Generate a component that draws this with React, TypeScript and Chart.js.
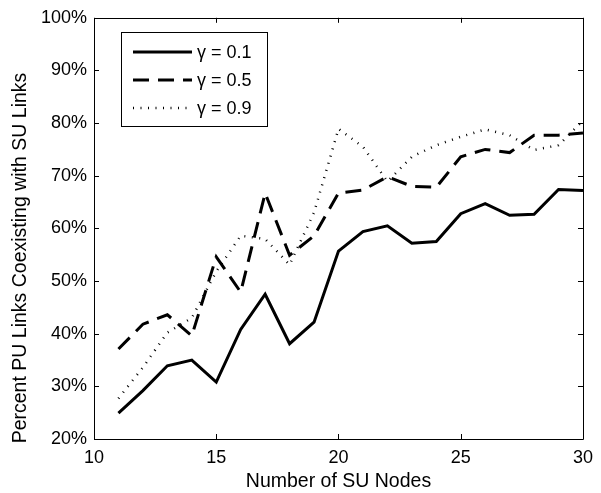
import React, { useEffect, useRef } from "react";
import { Chart, registerables } from "chart.js";

Chart.register(...registerables);

// Number of SU nodes on the horizontal axis
const suNodes = [11, 12, 13, 14, 15, 16, 17, 18, 19, 20, 21, 22, 23, 24, 25, 26, 27, 28, 29, 30];

// Percent of PU links coexisting with SU links, one series per gamma
const gamma01 = [24.9, 29.2, 33.9, 35.0, 30.8, 40.8, 47.5, 38.1, 42.2, 55.7, 59.4, 60.5, 57.2, 57.5, 62.8, 64.7, 62.5, 62.7, 67.4, 67.2];
const gamma05 = [37.1, 41.8, 43.6, 39.6, 54.6, 47.9, 66.7, 54.9, 58.6, 66.7, 67.3, 69.8, 68.0, 67.8, 73.6, 75.0, 74.4, 77.7, 77.7, 78.1];
const gamma09 = [27.7, 33.6, 40.2, 43.0, 51.8, 58.6, 58.0, 53.1, 63.0, 78.9, 75.5, 68.9, 73.6, 75.8, 77.4, 78.8, 77.7, 74.9, 75.8, 80.5];

const seriesLabels = ["γ = 0.1", "γ = 0.5", "γ = 0.9"];
const xTicks = [10, 15, 20, 25, 30];
const yTicks = [20, 30, 40, 50, 60, 70, 80, 90, 100];

const xTitle = "Number of SU Nodes";
const yTitle = "Percent PU Links Coexisting with SU Links";

const FONT = "'Liberation Sans', Arial, Helvetica, sans-serif";

// Boxed axes with inward tick marks, inset legend and rotated y title
const framePlugin = {
  id: "frame",
  afterDraw(chart: any) {
    const ctx = chart.ctx as CanvasRenderingContext2D;
    const { left, right, top, bottom } = chart.chartArea;
    const xs = chart.scales.x;
    const ys = chart.scales.y;
    const tickLen = 5;
    ctx.save();
    ctx.strokeStyle = "#000";
    ctx.lineWidth = 1;
    ctx.setLineDash([]);
    ctx.beginPath();
    ctx.rect(Math.round(left) + 0.5, Math.round(top) + 0.5, Math.round(right - left), Math.round(bottom - top));
    ctx.stroke();

    ctx.beginPath();
    xTicks.forEach((v) => {
      const px = Math.round(xs.getPixelForValue(v)) + 0.5;
      ctx.moveTo(px, bottom);
      ctx.lineTo(px, bottom - tickLen);
      ctx.moveTo(px, top);
      ctx.lineTo(px, top + tickLen);
    });
    yTicks.forEach((v) => {
      const py = Math.round(ys.getPixelForValue(v)) + 0.5;
      ctx.moveTo(left, py);
      ctx.lineTo(left + tickLen, py);
      ctx.moveTo(right, py);
      ctx.lineTo(right - tickLen, py);
    });
    ctx.stroke();

    // legend
    const bx = 121.5, by = 32.5, bw = 146, bh = 94;
    ctx.fillStyle = "#fff";
    ctx.fillRect(bx, by, bw, bh);
    ctx.strokeRect(bx, by, bw, bh);
    const rows = [52, 80, 108];
    chart.data.datasets.forEach((ds: any, i: number) => {
      ctx.save();
      ctx.strokeStyle = ds.borderColor;
      ctx.lineWidth = ds.borderWidth;
      ctx.setLineDash(ds.borderDash || []);
      ctx.lineCap = "butt";
      ctx.beginPath();
      ctx.moveTo(133, rows[i]);
      ctx.lineTo(192, rows[i]);
      ctx.stroke();
      ctx.restore();
      ctx.fillStyle = "#000";
      ctx.font = `18px ${FONT}`;
      ctx.textAlign = "left";
      ctx.textBaseline = "middle";
      ctx.fillText(ds.label, 197, rows[i] + 1);
    });

    // y axis title
    ctx.translate(21, 258);
    ctx.rotate(-Math.PI / 2);
    ctx.fillStyle = "#000";
    ctx.font = `19.5px ${FONT}`;
    ctx.textAlign = "center";
    ctx.textBaseline = "middle";
    ctx.fillText(yTitle, 0, 0);
    ctx.restore();
  },
};

export default function App() {
  const canvasRef = useRef<HTMLCanvasElement | null>(null);

  useEffect(() => {
    if (!canvasRef.current) return;
    const toPoints = (vals: number[]) => vals.map((y, i) => ({ x: suNodes[i], y }));
    const chart = new Chart(canvasRef.current, {
      type: "line",
      data: {
        datasets: [
          {
            label: seriesLabels[0],
            data: toPoints(gamma01),
            borderColor: "#000",
            borderWidth: 3,
            pointRadius: 0,
            tension: 0,
          },
          {
            label: seriesLabels[1],
            data: toPoints(gamma05),
            borderColor: "#000",
            borderWidth: 3,
            borderDash: [16, 9],
            pointRadius: 0,
            tension: 0,
          },
          {
            label: seriesLabels[2],
            data: toPoints(gamma09),
            borderColor: "#000",
            borderWidth: 2.5,
            borderDash: [1, 6.5],
            borderCapStyle: "butt",
            pointRadius: 0,
            tension: 0,
          },
        ],
      },
      options: {
        animation: false,
        responsive: true,
        maintainAspectRatio: false,
        devicePixelRatio: 1,
        layout: { padding: { top: 13, right: 14, left: 0, bottom: 0 } },
        plugins: {
          legend: { display: false },
          tooltip: { enabled: false },
        },
        scales: {
          x: {
            type: "linear",
            min: 10,
            max: 30,
            afterBuildTicks: (scale: any) => {
              scale.ticks = xTicks.map((v) => ({ value: v }));
            },
            afterFit: (scale: any) => {
              scale.height = 54;
            },
            grid: { display: false, drawTicks: false },
            border: { display: false },
            ticks: {
              padding: 8,
              color: "#000",
              font: { family: FONT, size: 18 },
            },
            title: {
              display: true,
              text: xTitle,
              color: "#000",
              font: { family: FONT, size: 19.5 },
              padding: { top: 0, bottom: 0 },
            },
          },
          y: {
            type: "linear",
            min: 20,
            max: 100,
            afterBuildTicks: (scale: any) => {
              scale.ticks = yTicks.map((v) => ({ value: v }));
            },
            afterFit: (scale: any) => {
              scale.width = 94;
            },
            grid: { display: false, drawTicks: false },
            border: { display: false },
            ticks: {
              padding: 7,
              color: "#000",
              font: { family: FONT, size: 18 },
              callback: (v: any) => `${v}%`,
            },
          },
        },
      },
      plugins: [framePlugin],
    });
    return () => chart.destroy();
  }, []);

  return (
    <div style={{ position: "fixed", left: 0, top: 0, width: 601, height: 493, background: "#fff" }}>
      <canvas ref={canvasRef} />
    </div>
  );
}
